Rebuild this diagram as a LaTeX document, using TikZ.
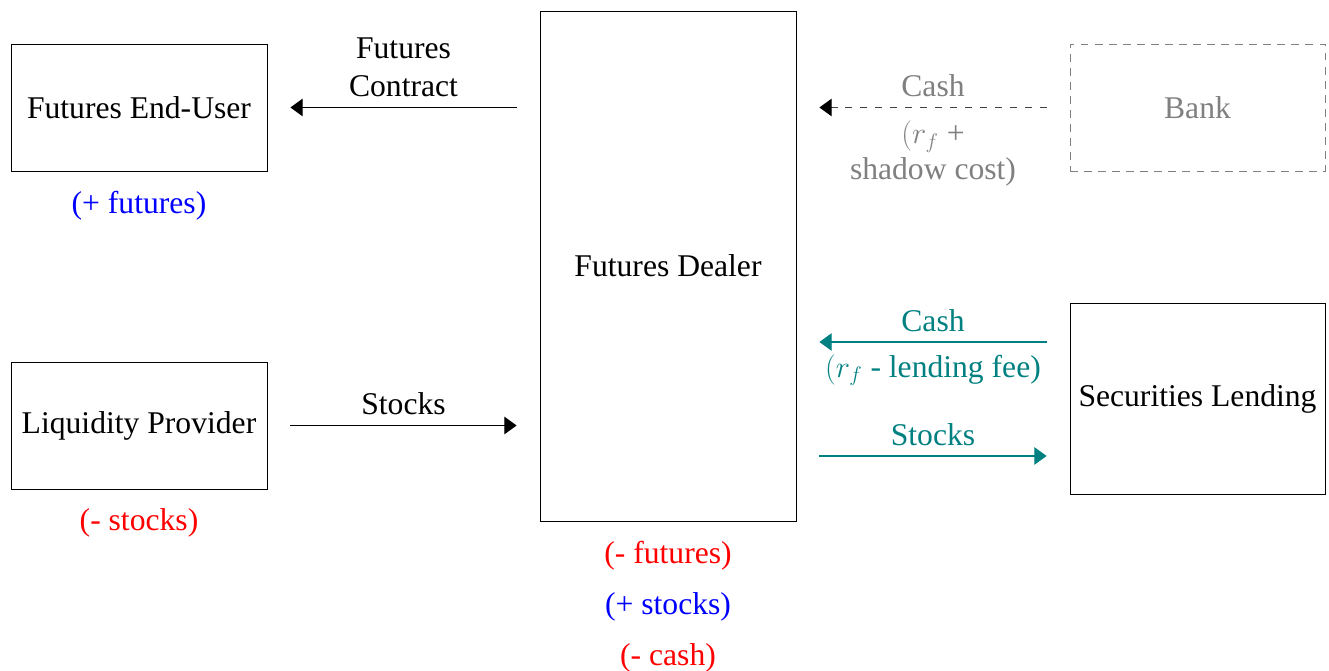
\documentclass[tikz,border=0pt]{standalone}
\usepackage{fontspec}
\setmainfont{Liberation Serif}
\usetikzlibrary{arrows.meta}
\definecolor{lendteal}{rgb}{0,0.5,0.5}
\tikzset{
  every node/.style={font=\fontsize{18}{21.5}\selectfont},
  party/.style={draw, line width=0.5pt, minimum width=5.12cm, minimum height=2.54cm, inner sep=0pt},
  arr/.style={line width=0.6pt, -{Triangle[length=7pt, width=10pt]}, shorten >=0.46cm, shorten <=0.46cm},
  lbl/.style={inner sep=5.5pt, align=center},
  holding/.style={yshift=-1.7pt},
}
\begin{document}
\begin{tikzpicture}[x=0.02cm, y=-0.02cm]
\useasboundingbox (0,0) rectangle (1329,671);

% participants
\node[party] (eu) at (139,107.5) {Futures End-User};
\node[party] (lp) at (139,425.5) {Liquidity Provider};
\node[party, minimum height=10.2cm] (dealer) at (668,266) {Futures Dealer};
\node[party, draw=gray, text=gray, dash pattern=on 4.5pt off 3.5pt, minimum width=5.1cm] (bank) at (1197.5,107.5) {Bank};
\node[party, minimum width=5.1cm, minimum height=3.82cm] (sl) at (1197.5,398.5) {Securities Lending};

% positions held by each party
\node[holding, blue] (euq) at (139,203) {(+ futures)};
\node[holding, red] (lpq) at (139,520) {(- stocks)};
\node[holding, red] (dq1) at (668,553) {(- futures)};
\node[holding, blue] (dq2) at (668,604) {(+ stocks)};
\node[holding, red] (dq3) at (668,655) {(- cash)};

% flows on the left
\draw[arr] (dealer.west |- eu.east) -- node[lbl, above, font=\fontsize{18}{22}\selectfont] (fc) {Futures\\Contract} (eu.east);
\draw[arr] (lp.east) -- node[lbl, above] (st) {Stocks} (dealer.west |- lp.east);

% funding from the bank
\draw[arr, black!75, dash pattern=on 4pt off 4.5pt, -{Triangle[length=7pt, width=10pt, color=black]}]
  (bank.west) -- node[lbl, above, text=gray] (bc) {Cash}
  node[lbl, below, text=gray, font=\fontsize{18}{20}\selectfont, yshift=-2pt] (bcr) {$(r_f$ +\\shadow cost)} (dealer.east |- bank.west);

% securities lending
\coordinate (slc) at ([yshift=1.13cm]sl.west);
\coordinate (sls) at ([yshift=-1.15cm]sl.west);
\draw[arr, lendteal] (slc) -- node[lbl, above] (lc) {Cash}
  node[lbl, below, yshift=-1.2pt] (lcr) {$(r_f$ - lending fee)} (dealer.east |- slc);
\draw[arr, lendteal] (dealer.east |- sls) -- node[lbl, above] (ls) {Stocks} (sls);
\end{tikzpicture}
\end{document}
